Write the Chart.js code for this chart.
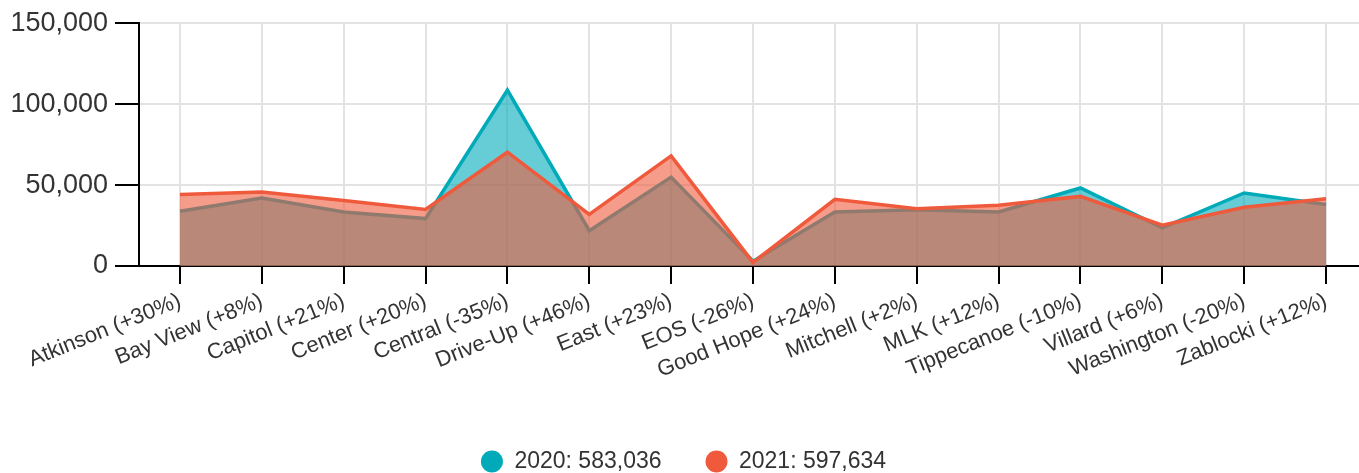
<!DOCTYPE html>
<html>
<head>
<meta charset="utf-8">
<script src="https://cdn.jsdelivr.net/npm/chart.js@4.4.1/dist/chart.umd.min.js"></script>
<style>
  html, body { margin: 0; padding: 0; background: #fff; overflow: hidden; }
  #wrap { width: 1367px; height: 483px; }
</style>
</head>
<body>
<div id="wrap"><canvas id="grafico_area"></canvas></div>
<script>
// sucursales con el cambio 2020 -> 2021
const sucursales = [
    'Atkinson (+30%)', 'Bay View (+8%)', 'Capitol (+21%)', 'Center (+20%)',
    'Central (-35%)', 'Drive-Up (+46%)', 'East (+23%)', 'EOS (-26%)',
    'Good Hope (+24%)', 'Mitchell (+2%)', 'MLK (+12%)', 'Tippecanoe (-10%)',
    'Villard (+6%)', 'Washington (-20%)', 'Zablocki (+12%)'
];

const valores2020 = [33800, 42000, 33400, 29300, 108600, 21800, 54900, 3000,
                     33300, 34700, 33400, 48200, 23600, 45100, 37936];
const valores2021 = [44100, 45700, 40400, 34900, 70300, 31900, 68000, 2200,
                     41200, 35400, 37500, 43000, 25200, 36300, 41534];

const etiqueta2020 = '2020: 583,036';
const etiqueta2021 = '2021: 597,634';

const ticksY = [0, 50000, 100000, 150000];

const colorTexto = '#333333';
const colorGrilla = '#e3e3e3';
const fuente = 'Liberation Sans, Arial, Helvetica, sans-serif';

const ctx = document.getElementById('grafico_area');

// 2021 va primero para que quede dibujado encima; la leyenda se invierte
let graficoArea = new Chart(ctx, {
    type: 'line',
    data: {
        labels: sucursales,
        datasets: [{
            label: etiqueta2021,
            data: valores2021,
            borderColor: '#f05a3c',
            backgroundColor: 'rgba(240, 90, 60, 0.6)',
            fill: 'origin',
            borderWidth: 3.5,
            pointRadius: 0,
            tension: 0
        }, {
            label: etiqueta2020,
            data: valores2020,
            borderColor: '#00aab9',
            backgroundColor: 'rgba(0, 170, 185, 0.6)',
            fill: 'origin',
            borderWidth: 3.5,
            pointRadius: 0,
            tension: 0
        }]
    },
    options: {
        responsive: true,
        maintainAspectRatio: false,
        animation: false,
        layout: { padding: { top: 22, left: 0, right: 0, bottom: 0 } },
        plugins: {
            legend: {
                position: 'bottom',
                reverse: true,
                labels: {
                    usePointStyle: true,
                    pointStyle: 'circle',
                    boxHeight: 15.5,
                    boxWidth: 22,
                    pointStyleWidth: 22,
                    padding: 44,
                    color: colorTexto,
                    font: { family: fuente, size: 23 },
                    // circulos macizos con el color de la linea
                    generateLabels: function (chart) {
                        return chart.data.datasets.map((ds, i) => ({
                            text: ds.label,
                            fillStyle: ds.borderColor,
                            strokeStyle: ds.borderColor,
                            lineWidth: 0,
                            pointStyle: 'circle',
                            fontColor: colorTexto,
                            hidden: false,
                            datasetIndex: i
                        }));
                    }
                }
            },
            tooltip: { enabled: false }
        },
        scales: {
            x: {
                offset: true,
                grid: {
                    offset: false,
                    color: colorGrilla,
                    lineWidth: 2,
                    tickColor: '#000',
                    tickLength: 18,
                    tickWidth: 2
                },
                border: { color: '#000', width: 2 },
                ticks: {
                    autoSkip: false,
                    minRotation: 22,
                    maxRotation: 22,
                    padding: 4,
                    color: colorTexto,
                    font: { family: fuente, size: 22 }
                },
                afterFit: function (escala) { escala.height = 140; }
            },
            y: {
                min: 0,
                max: 150000,
                afterBuildTicks: function (escala) {
                    escala.ticks = ticksY.map(v => ({ value: v }));
                },
                grid: {
                    color: colorGrilla,
                    lineWidth: 2,
                    tickColor: '#000',
                    tickLength: 24,
                    tickWidth: 2
                },
                border: { color: '#000', width: 2 },
                ticks: {
                    padding: 7,
                    color: colorTexto,
                    font: { family: fuente, size: 27 }
                },
                afterFit: function (escala) { escala.width = 139; }
            }
        }
    }
});
</script>
</body>
</html>
